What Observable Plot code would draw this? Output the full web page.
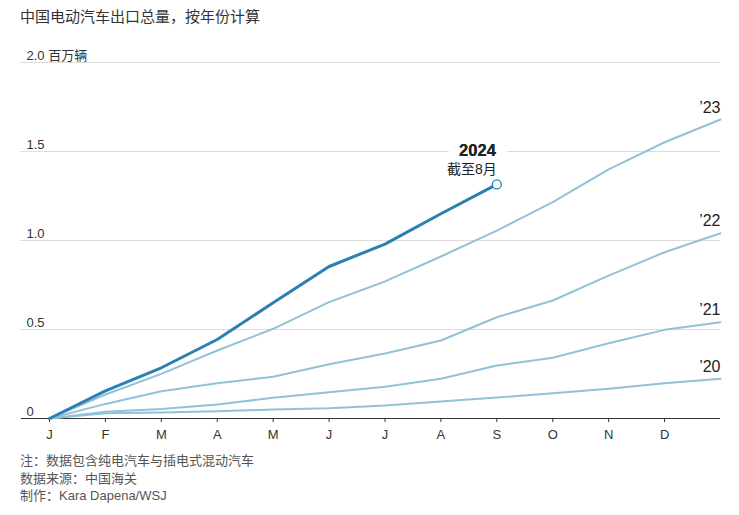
<!DOCTYPE html>
<html>
<head>
<meta charset="utf-8">
<script src="https://cdn.jsdelivr.net/npm/d3@7"></script>
<script src="https://cdn.jsdelivr.net/npm/@observablehq/plot@0.6"></script>
<style>
  body { margin:0; background:#fff; font-family:"Liberation Sans","Noto Sans CJK SC",sans-serif; }
  #wrap { position:relative; width:739px; height:515px; overflow:hidden; }
  #title { position:absolute; left:20px; top:6px; font-size:15px; line-height:22px; color:#333; }
  #chart { position:absolute; left:0; top:30px; }
  #foot { position:absolute; left:20px; top:452px; font-size:13px; line-height:17.5px; color:#555; }
</style>
</head>
<body>
<div id="wrap">
  <div id="title">中国电动汽车出口总量，按年份计算</div>
  <div id="chart"></div>
  <div id="foot">
    <div>注：数据包含纯电汽车与插电式混动汽车</div>
    <div>数据来源：中国海关</div>
    <div>制作：Kara Dapena/WSJ</div>
  </div>
</div>
<script>
const months = ["J","F","M","A","M","J","J","A","S","O","N","D"];
const yTicks = [0, 0.5, 1, 1.5, 2];
const yTickLabels = ["0", "0.5", "1.0", "1.5", "2.0 百万辆"];

// cumulative exports (millions), index 0 = start of January
const v2020 = [0, 0.030, 0.034, 0.041, 0.050, 0.058, 0.073, 0.095, 0.118, 0.142, 0.167, 0.198, 0.223];
const v2021 = [0, 0.038, 0.053, 0.079, 0.116, 0.148, 0.178, 0.223, 0.298, 0.341, 0.423, 0.498, 0.541];
const v2022 = [0, 0.082, 0.153, 0.198, 0.235, 0.305, 0.365, 0.438, 0.569, 0.663, 0.803, 0.934, 1.041];
const v2023 = [0, 0.135, 0.251, 0.382, 0.504, 0.654, 0.770, 0.910, 1.056, 1.215, 1.400, 1.552, 1.680];
const v2024 = [0, 0.155, 0.285, 0.444, 0.650, 0.854, 0.980, 1.150, 1.315];

const histLabels = ["’20", "’21", "’22", "’23"];
const histSeries = [v2020, v2021, v2022, v2023];
const curLabel = "2024";
const curNote = "截至8月";

const hist = histSeries.flatMap((vals, k) => vals.map((v, i) => ({m: i, v, year: histLabels[k]})));
const histEnds = histSeries.map((vals, k) => ({m: vals.length - 1, v: vals[vals.length - 1], year: histLabels[k]}));
const cur = v2024.map((v, i) => ({m: i, v}));
const curEnd = [cur[cur.length - 1]];

const dark = "#2b7fb3";
const light = "#93c2d8";

const plot = Plot.plot({
  width: 739,
  height: 420,
  marginTop: 32,
  marginBottom: 32,
  marginLeft: 49,
  marginRight: 19,
  x: {domain: [0, 12], axis: null},
  y: {domain: [0, 2], axis: null},
  style: {fontFamily: '"Liberation Sans","Noto Sans CJK SC",sans-serif', fontSize: "13px", color: "#333", background: "white"},
  marks: [
    Plot.ruleY(yTicks.slice(1), {stroke: "#dcdcdc", strokeWidth: 1, insetLeft: -29}),
    Plot.text(curEnd, {x: "m", y: "v", text: () => curLabel, textAnchor: "end", dx: -1, dy: -34, fontSize: 16.5, fontWeight: 600, fill: "#222", stroke: "white", strokeWidth: 22}),
    Plot.text(curEnd, {x: "m", y: "v", text: () => curLabel, textAnchor: "end", dx: -1, dy: -34, fontSize: 16.5, fontWeight: 600, fill: "#222"}),
    Plot.text(curEnd, {x: "m", y: "v", text: () => curNote, textAnchor: "end", dx: 0, dy: -15, fontSize: 14, fill: "#222"}),
    Plot.text(yTicks, {y: d => d, text: (d, i) => yTickLabels[i], frameAnchor: "left", textAnchor: "start", dx: -23, dy: -7, fontSize: 13, fill: "#333"}),
    Plot.ruleY([0], {stroke: "#333", strokeWidth: 1.2, insetLeft: -28}),
    Plot.axisX(d3.range(12), {tickFormat: i => months[i], tickSize: 4, tickPadding: 7, fontSize: 13, stroke: "#333", label: null}),
    Plot.line(hist, {x: "m", y: "v", z: "year", stroke: light, strokeWidth: 2}),
    Plot.text(histEnds, {x: "m", y: "v", text: "year", textAnchor: "end", dy: -12, fontSize: 16, fill: "#222"}),
    Plot.line(cur, {x: "m", y: "v", stroke: dark, strokeWidth: 3}),
    Plot.dot(curEnd, {x: "m", y: "v", r: 4.5, fill: "white", stroke: dark, strokeWidth: 1.3})
  ]
});
document.getElementById("chart").appendChild(plot);
</script>
</body>
</html>
